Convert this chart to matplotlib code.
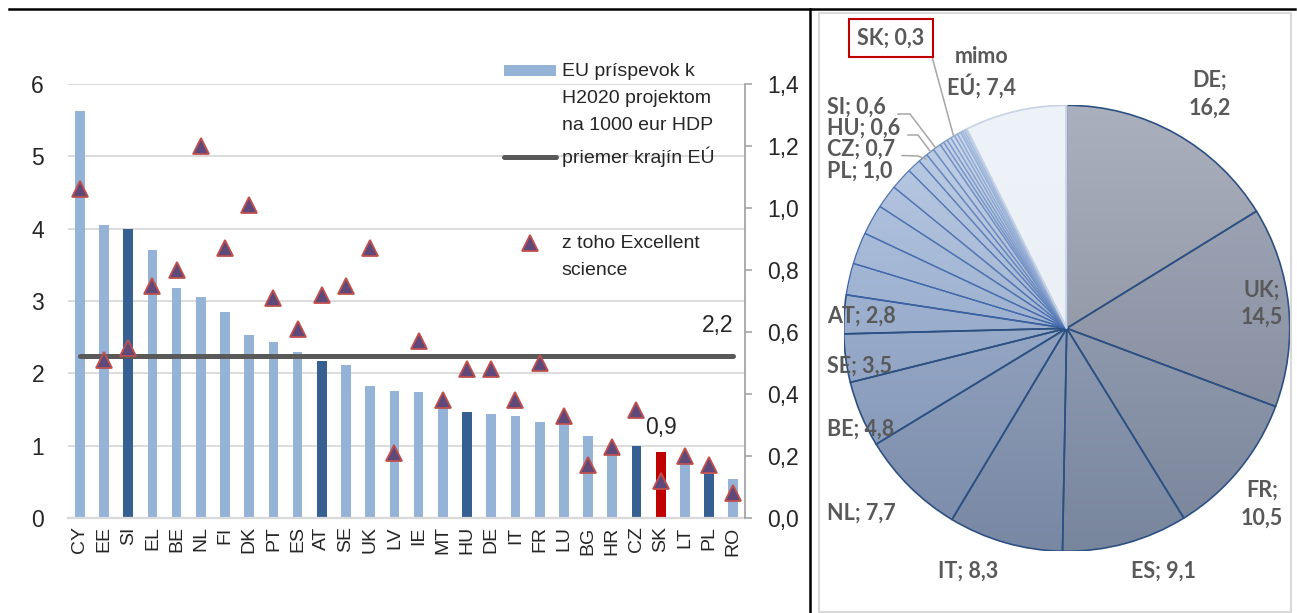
import numpy as np
import matplotlib
matplotlib.use("Agg")
import matplotlib.pyplot as plt
from matplotlib.patches import Wedge, Rectangle
from matplotlib.lines import Line2D
from matplotlib import font_manager

# ---------------- data ----------------
countries = ['CY', 'EE', 'SI', 'EL', 'BE', 'NL', 'FI', 'DK', 'PT', 'ES', 'AT', 'SE', 'UK', 'LV',
             'IE', 'MT', 'HU', 'DE', 'IT', 'FR', 'LU', 'BG', 'HR', 'CZ', 'SK', 'LT', 'PL', 'RO']
contrib = [5.62, 4.05, 4.00, 3.71, 3.18, 3.05, 2.85, 2.53, 2.44, 2.29, 2.17, 2.11, 1.82, 1.75,
           1.74, 1.54, 1.47, 1.44, 1.41, 1.33, 1.29, 1.14, 1.00, 1.00, 0.91, 0.84, 0.61, 0.54]
excellent = [1.06, 0.51, 0.55, 0.75, 0.80, 1.20, 0.87, 1.01, 0.71, 0.61, 0.72, 0.75, 0.87, 0.21,
             0.57, 0.38, 0.48, 0.48, 0.38, 0.50, 0.33, 0.17, 0.23, 0.35, 0.12, 0.20, 0.17, 0.08]
eu_average = 2.24
dark_countries = ['SI', 'AT', 'HU', 'CZ', 'PL']
red_countries = ['SK']
left_ticks = [0, 1, 2, 3, 4, 5, 6]
right_ticks = [0.0, 0.2, 0.4, 0.6, 0.8, 1.0, 1.2, 1.4]

pie_names = ['DE', 'UK', 'FR', 'ES', 'IT', 'NL', 'BE', 'SE', 'AT', 'DK', 'EL', 'FI', 'IE', 'PT',
             'PL', 'CZ', 'HU', 'SI', 'LU', 'CY', 'EE', 'SK', 'BG', 'RO', 'LT', 'LV', 'HR', 'MT',
             'mimo EÚ']
pie_values = [16.2, 14.5, 10.5, 9.1, 8.3, 7.7, 4.8, 3.5, 2.8, 2.3, 2.3, 2.2, 1.7, 1.6,
              1.0, 0.7, 0.6, 0.6, 0.3, 0.3, 0.3, 0.3, 0.25, 0.25, 0.15, 0.15, 0.15, 0.05,
              7.4]

# ---------------- fonts ----------------
names = {f.name for f in font_manager.fontManager.ttflist}
NARROW = 'Liberation Sans Narrow' if 'Liberation Sans Narrow' in names else 'Liberation Sans'
ARIAL = 'Liberation Sans'
PIEF = 'Lato' if 'Lato' in names else 'DejaVu Sans'

W, H = 1297, 613
fig = plt.figure(figsize=(W / 100, H / 100), dpi=100)
fig.patch.set_facecolor('white')


def fp(x, y):
    return x / W, 1 - y / H


def fmt(v, d=1):
    return f"{v:.{d}f}".replace('.', ',')


TXT = '#262626'
TICKFS = 16.5
LEGFS = 14

# ---------------- left chart ----------------
ax = fig.add_axes([67.7 / W, (H - 518) / H, (745.4 - 67.7) / W, (518 - 84) / H])
x = np.arange(len(countries))
cols = []
for c in countries:
    if c in red_countries:
        cols.append('#C00000')
    elif c in dark_countries:
        cols.append('#376092')
    else:
        cols.append('#95B3D7')
ax.bar(x, contrib, width=0.4, color=cols, zorder=2)
ax.plot([x[0], x[-1]], [eu_average, eu_average], color='#595959', lw=3.6,
        solid_capstyle='round', zorder=3)
ax.set_xlim(-0.5, len(countries) - 0.5)
ax.set_ylim(0, 6)
ax.set_yticks(left_ticks)
ax.set_yticklabels([str(t) for t in left_ticks], fontfamily=NARROW, fontsize=TICKFS, color=TXT)
ax.set_xticks(x)
ax.set_xticklabels(countries, rotation=90, fontfamily=ARIAL, fontsize=14, color=TXT)
ax.tick_params(axis='y', length=0, pad=17)
ax.tick_params(axis='x', length=0, pad=6)
ax.grid(axis='y', color='#D9D9D9', lw=1.3, zorder=0)
ax.set_axisbelow(True)
for s in ['top', 'left', 'right']:
    ax.spines[s].set_visible(False)
ax.spines['bottom'].set_color('#D9D9D9')
ax.spines['bottom'].set_linewidth(1.6)

ax.annotate(fmt(eu_average), (x[-1], eu_average), xytext=(0, 30), textcoords='offset pixels',
            ha='right', va='center', fontfamily=NARROW, fontsize=TICKFS, color=TXT)
sk = countries.index('SK')
ax.annotate(fmt(contrib[sk]), (x[sk], contrib[sk]), xytext=(0, 25), textcoords='offset pixels',
            ha='center', va='center', fontfamily=NARROW, fontsize=TICKFS, color=TXT)

axr = ax.twinx()
axr.set_ylim(0, 1.4)
axr.plot(x, excellent, linestyle='none', marker='^', markersize=11,
         markerfacecolor='#5F497A', markeredgecolor='#C0504D', markeredgewidth=1.3, zorder=4)
axr.set_yticks(right_ticks)
axr.set_yticklabels([fmt(t) for t in right_ticks], fontfamily=NARROW, fontsize=TICKFS, color=TXT)
axr.tick_params(axis='y', direction='out', length=5, width=1.2, color='#A6A6A6', pad=11)
for s in ['top', 'left', 'bottom']:
    axr.spines[s].set_visible(False)
axr.spines['right'].set_color('#A6A6A6')
axr.spines['right'].set_linewidth(1.3)

# legend (manual)
fig.patches.append(Rectangle(fp(504, 76), 52 / W, 11 / H, transform=fig.transFigure,
                             facecolor='#95B3D7', edgecolor='none'))
for txt, yy in [('EU príspevok k', 71.7), ('H2020 projektom', 98.3), ('na 1000 eur HDP', 125),
                ('priemer krajín EÚ', 156.7), ('z toho Excellent', 243), ('science', 270.7)]:
    fig.text(*fp(561.5, yy), txt, ha='left', va='center', fontfamily=NARROW, fontsize=LEGFS,
             color=TXT)
fig.lines.append(Line2D([504 / W, 556 / W], [1 - 156.7 / H] * 2, transform=fig.transFigure,
                        color='#595959', lw=3.6, solid_capstyle='round'))
fig.lines.append(Line2D([530 / W], [1 - 242.7 / H], transform=fig.transFigure, marker='^',
                        markersize=11, markerfacecolor='#5F497A', markeredgecolor='#C0504D',
                        markeredgewidth=1.3, linestyle='none'))

# ---------------- pie ----------------
cx, cy, R = 1066.7, 328.3, 223.0
axp = fig.add_axes([(cx - R) / W, (H - cy - R) / H, 2 * R / W, 2 * R / H])
axp.set_xlim(-1, 1)
axp.set_ylim(-1, 1)
axp.axis('off')

n = len(pie_values)
main_cols = np.array([
    [150, 156, 174], [143, 152, 172], [141, 154, 179], [139, 155, 183], [140, 158, 190],
    [142, 162, 197], [148, 169, 206], [152, 174, 211], [155, 178, 215]], float) / 255
small_start = np.array([158, 182, 219]) / 255
small_end = np.array([205, 218, 238]) / 255
n_small = n - 1 - len(main_cols)
base_cols = list(main_cols)
for i in range(n_small):
    t = i / max(n_small - 1, 1)
    base_cols.append(small_start * (1 - t) + small_end * t)
base_cols.append(np.array([238, 242, 249]) / 255)

edge_cols = []
for i in range(n):
    if i < 9:
        edge_cols.append('#2D5083')
    elif i < n - 1:
        t = (i - 9) / max(n_small - 1, 1)
        c0 = np.array([60, 100, 170]) / 255
        c1 = np.array([175, 195, 225]) / 255
        edge_cols.append(tuple(c0 * (1 - t) + c1 * t))
    else:
        edge_cols.append('#C8D2E3')

total = sum(pie_values)
cum = np.concatenate([[0], np.cumsum(pie_values)]) / total
ys = np.linspace(1, -1, 300)
tt = (1 - ys) / 2
wedges = []
for i in range(n):
    th1 = 90 - 360 * cum[i + 1]
    th2 = 90 - 360 * cum[i]
    base = np.array(base_cols[i])
    if i == n - 1:
        top, bot = base, base * 0.975
    else:
        top = base + (1 - base) * 0.2
        bot = base * 0.86
    img = top[None, :] * (1 - tt[:, None]) + bot[None, :] * tt[:, None]
    img = np.repeat(img[:, None, :], 2, axis=1)
    clipw = Wedge((0, 0), 1, th1, th2, facecolor='none', edgecolor='none')
    axp.add_patch(clipw)
    im = axp.imshow(img, extent=(-1, 1, -1, 1), origin='upper', aspect='auto',
                    interpolation='bilinear', zorder=1)
    im.set_clip_path(clipw)
    wedges.append((th1, th2))
for i, (th1, th2) in enumerate(wedges):
    lw = 1.2 if i < 9 or i == n - 1 else 0.9
    axp.add_patch(Wedge((0, 0), 1, th1, th2, facecolor='none', edgecolor=edge_cols[i],
                        lw=lw, zorder=2))

PIECOL = '#595959'
pie_text = dict(fontfamily=PIEF, fontweight='bold', fontsize=15.5, color=PIECOL)


def val_of(name):
    return fmt(pie_values[pie_names.index(name)])


for name, px_, py1, py2 in [('DE', 1210, 80, 108.3), ('UK', 1261.7, 290, 317.3),
                            ('FR', 1261.7, 490, 518.3)]:
    fig.text(*fp(px_, py1), name + ';', ha='center', va='center', **pie_text)
    fig.text(*fp(px_, py2), val_of(name), ha='center', va='center', **pie_text)
fig.text(*fp(981.7, 56.7), 'mimo', ha='center', va='center', **pie_text)
fig.text(*fp(981.7, 86), 'EÚ; ' + val_of('mimo EÚ'), ha='center', va='center', **pie_text)
for name, px_, py_ in [('ES', 1163.3, 571.7), ('IT', 968.3, 571.7)]:
    fig.text(*fp(px_, py_), f'{name}; {val_of(name)}', ha='center', va='center', **pie_text)
for name, py_ in [('NL', 513.3), ('BE', 429.3), ('SE', 366), ('AT', 316.7),
                  ('PL', 171.7), ('CZ', 149.3), ('HU', 128.3), ('SI', 107.3)]:
    fig.text(*fp(827, py_), f'{name}; {val_of(name)}', ha='left', va='center', **pie_text)

# leader lines
LC = '#A6A6A6'
for pts in [[(898, 114), (910, 114), (935, 147)],
            [(908, 135), (918, 135), (930, 151)],
            [(902, 155.5), (918, 156), (926, 159)],
            [(932, 56.7), (953.3, 135)]]:
    xs = [p[0] / W for p in pts]
    yy = [1 - p[1] / H for p in pts]
    fig.lines.append(Line2D(xs, yy, transform=fig.transFigure, color=LC, lw=1.1))

# SK box label
fig.patches.append(Rectangle(fp(849, 56.7), 84 / W, 37.7 / H, transform=fig.transFigure,
                             facecolor='white', edgecolor='#C00000', lw=1.5, zorder=5))
fig.text(*fp(891, 38), 'SK; ' + val_of('SK'), ha='center', va='center', zorder=6, **pie_text)

# ---------------- frame lines ----------------
fig.patches.append(Rectangle(fp(819, 612), (1291 - 819) / W, (612 - 12.5) / H,
                             transform=fig.transFigure, facecolor='none',
                             edgecolor='#D9D9D9', lw=1.5))
fig.lines.append(Line2D([9 / W, 1 - 2 / W], [1 - 8.8 / H] * 2, transform=fig.transFigure,
                        color='black', lw=1.8))
fig.lines.append(Line2D([809.5 / W] * 2, [1 - 8.8 / H, 0], transform=fig.transFigure,
                        color='black', lw=1.8))

fig.savefig('out.png', dpi=100, facecolor='white')
